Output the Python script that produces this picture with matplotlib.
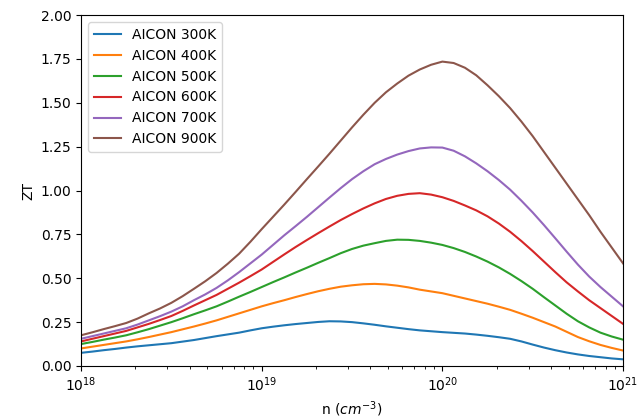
import numpy as np
import matplotlib
matplotlib.use("Agg")
import matplotlib.pyplot as plt

# values every 1/16 decade, from 1e18 to 1e21
log_n = np.linspace(18.0, 21.0, 49)

zt_300 = [0.075, 0.082, 0.09, 0.097, 0.105, 0.112, 0.118, 0.124, 0.13, 0.139,
          0.148, 0.159, 0.17, 0.18, 0.19, 0.203, 0.215, 0.224, 0.232, 0.239,
          0.245, 0.251, 0.255, 0.254, 0.25, 0.243, 0.235, 0.226, 0.218, 0.21,
          0.203, 0.198, 0.193, 0.189, 0.185, 0.179, 0.172, 0.164, 0.155, 0.14,
          0.122, 0.105, 0.09, 0.077, 0.066, 0.057, 0.05, 0.043, 0.038]
zt_400 = [0.10, 0.11, 0.12, 0.13, 0.14, 0.152, 0.165, 0.179, 0.193, 0.209,
          0.225, 0.242, 0.26, 0.28, 0.30, 0.32, 0.34, 0.358, 0.375, 0.393,
          0.41, 0.426, 0.44, 0.452, 0.46, 0.466, 0.468, 0.465, 0.458, 0.448,
          0.435, 0.425, 0.415, 0.40, 0.385, 0.37, 0.355, 0.338, 0.32, 0.298,
          0.275, 0.25, 0.225, 0.195, 0.165, 0.141, 0.12, 0.103, 0.088]
zt_500 = [0.125, 0.137, 0.15, 0.162, 0.175, 0.192, 0.21, 0.23, 0.25, 0.272,
          0.295, 0.317, 0.34, 0.367, 0.395, 0.422, 0.45, 0.478, 0.505, 0.533,
          0.56, 0.588, 0.615, 0.643, 0.667, 0.686, 0.70, 0.713, 0.72, 0.719,
          0.713, 0.703, 0.69, 0.672, 0.65, 0.624, 0.595, 0.562, 0.525, 0.484,
          0.44, 0.392, 0.345, 0.298, 0.255, 0.22, 0.19, 0.168, 0.15]
zt_600 = [0.14, 0.155, 0.17, 0.185, 0.20, 0.22, 0.24, 0.262, 0.285, 0.314,
          0.345, 0.375, 0.405, 0.44, 0.475, 0.512, 0.55, 0.593, 0.636, 0.678,
          0.718, 0.757, 0.795, 0.832, 0.866, 0.898, 0.927, 0.952, 0.97, 0.981,
          0.985, 0.977, 0.962, 0.941, 0.915, 0.887, 0.853, 0.812, 0.765, 0.712,
          0.655, 0.595, 0.535, 0.477, 0.425, 0.375, 0.33, 0.285, 0.24]
zt_700 = [0.155, 0.17, 0.185, 0.2, 0.215, 0.236, 0.26, 0.284, 0.31, 0.34,
          0.375, 0.408, 0.445, 0.488, 0.535, 0.585, 0.635, 0.69, 0.745, 0.797,
          0.85, 0.905, 0.96, 1.014, 1.065, 1.11, 1.15, 1.18, 1.205, 1.225,
          1.24, 1.246, 1.245, 1.227, 1.195, 1.155, 1.11, 1.06, 1.005, 0.942,
          0.875, 0.803, 0.728, 0.652, 0.578, 0.51, 0.45, 0.395, 0.34]
zt_900 = [0.175, 0.192, 0.21, 0.227, 0.245, 0.27, 0.30, 0.328, 0.36, 0.398,
          0.44, 0.483, 0.53, 0.583, 0.64, 0.708, 0.78, 0.85, 0.92, 0.992,
          1.065, 1.137, 1.21, 1.285, 1.36, 1.432, 1.50, 1.56, 1.61, 1.655,
          1.69, 1.717, 1.735, 1.727, 1.70, 1.657, 1.60, 1.538, 1.47, 1.393,
          1.31, 1.22, 1.13, 1.04, 0.95, 0.86, 0.765, 0.675, 0.585]

labels = ["AICON 300K", "AICON 400K", "AICON 500K",
          "AICON 600K", "AICON 700K", "AICON 900K"]
series = [zt_300, zt_400, zt_500, zt_600, zt_700, zt_900]

n = 10.0 ** log_n

fig = plt.figure(figsize=(6.41, 4.2), dpi=100)
ax = fig.add_axes([0.1264, 0.1286, 0.8456, 0.8354])

for zt, lab in zip(series, labels):
    ax.plot(n, zt, label=lab)

ax.set_xscale("log")
ax.set_xlim(1e18, 1e21)
ax.set_ylim(0, 2.0)
ax.set_xlabel("n ($cm^{-3}$)")
ax.set_ylabel("ZT")
ax.legend(loc="upper left")

fig.savefig("out.png", dpi=100)
